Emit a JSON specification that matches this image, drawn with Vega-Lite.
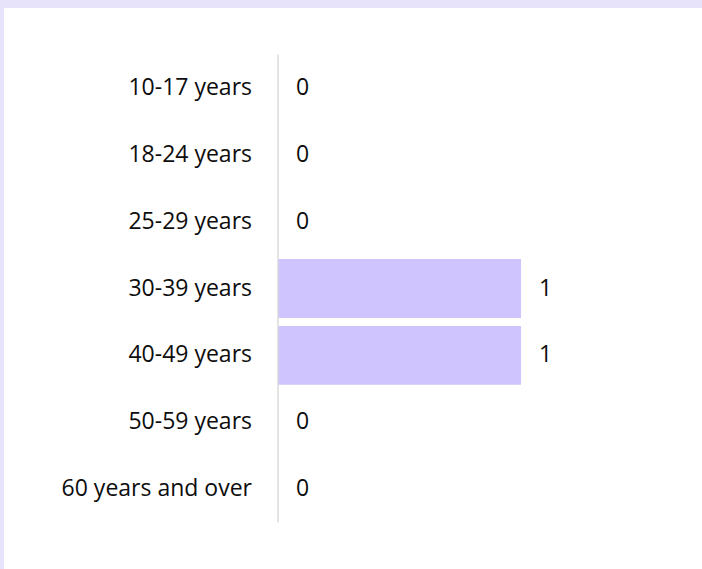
{
  "$schema": "https://vega.github.io/schema/vega-lite/v6.json",
  "width": 702,
  "height": 569,
  "autosize": {"type": "fit", "contains": "padding"},
  "padding": {"left": 4, "top": 8, "right": 0, "bottom": 0},
  "background": "#e6e3fb",
  "config": {"view": {"fill": "#ffffff", "stroke": null}, "font": "Open Sans"},
  "data": {
    "values": [
      {"age": "10-17 years", "count": 0},
      {"age": "18-24 years", "count": 0},
      {"age": "25-29 years", "count": 0},
      {"age": "30-39 years", "count": 1},
      {"age": "40-49 years", "count": 1},
      {"age": "50-59 years", "count": 0},
      {"age": "60 years and over", "count": 0}
    ]
  },
  "encoding": {
    "y": {
      "field": "age",
      "type": "nominal",
      "sort": null,
      "axis": null,
      "scale": {"paddingInner": 0.12, "paddingOuter": 0.757}
    }
  },
  "layer": [
    {
      "mark": {"type": "bar", "color": "#cfc4fd"},
      "encoding": {
        "x": {
          "field": "count",
          "type": "quantitative",
          "axis": null,
          "scale": {"domain": [-1.1276, 1.7449], "nice": false, "zero": false}
        },
        "x2": {"datum": 0}
      }
    },
    {
      "mark": {"type": "tick", "color": "#d9d9d9", "thickness": 2, "size": 67, "orient": "vertical"},
      "encoding": {"x": {"datum": 0, "type": "quantitative"}}
    },
    {
      "mark": {"type": "text", "align": "left", "baseline": "middle", "dx": 18, "fontSize": 23, "color": "#0d0d0d"},
      "encoding": {
        "x": {"field": "count", "type": "quantitative"},
        "text": {"field": "count", "type": "quantitative"}
      }
    },
    {
      "mark": {"type": "text", "align": "right", "baseline": "middle", "dx": -26, "fontSize": 23, "color": "#0d0d0d"},
      "encoding": {
        "x": {"datum": 0, "type": "quantitative"},
        "text": {"field": "age", "type": "nominal"}
      }
    }
  ]
}
